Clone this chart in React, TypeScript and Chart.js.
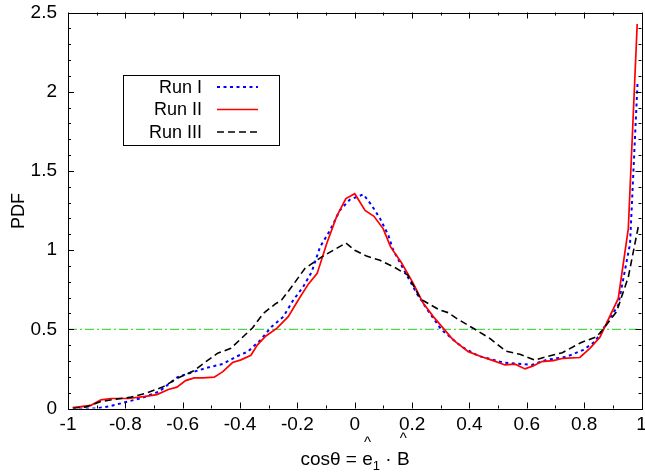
import React, { useEffect, useRef } from "react";
import { Chart, registerables } from "chart.js";

Chart.register(...registerables);

// ---- data ----
const X_MIN = -1;
const X_MAX = 1;
const Y_MIN = 0;
const Y_MAX = 2.5;
const X_MAJOR_STEP = 0.2;
const X_MINOR_STEP = 0.1;
const Y_MAJOR_STEP = 0.5;
const Y_MINOR_STEP = 0.1;

const runILabel = "Run I";
const runIX = [-0.983, -0.908, -0.856, -0.804, -0.745, -0.682, -0.618, -0.56, -0.507, -0.46, -0.414, -0.373, -0.33, -0.29, -0.249, -0.214, -0.18, -0.15, -0.121, -0.086, -0.052, -0.017, 0.03, 0.059, 0.088, 0.117, 0.134, 0.175, 0.216, 0.262, 0.303, 0.373, 0.431, 0.518, 0.617, 0.669, 0.739, 0.797, 0.838, 0.919, 0.96, 0.986];
const runIY = [0.0, 0.0, 0.013, 0.038, 0.065, 0.107, 0.198, 0.233, 0.261, 0.281, 0.327, 0.359, 0.43, 0.516, 0.58, 0.685, 0.768, 0.863, 1.02, 1.125, 1.251, 1.319, 1.352, 1.283, 1.2, 1.094, 1.0, 0.863, 0.727, 0.6, 0.496, 0.39, 0.332, 0.29, 0.275, 0.307, 0.327, 0.37, 0.422, 0.653, 1.04, 2.05];

const runIILabel = "Run II";
const runIIX = [-0.984, -0.92, -0.885, -0.85, -0.79, -0.73, -0.69, -0.65, -0.62, -0.59, -0.56, -0.53, -0.49, -0.46, -0.426, -0.397, -0.362, -0.34, -0.31, -0.272, -0.232, -0.197, -0.162, -0.131, -0.098, -0.063, -0.031, 0.0, 0.036, 0.067, 0.099, 0.125, 0.163, 0.204, 0.239, 0.274, 0.309, 0.343, 0.396, 0.442, 0.483, 0.524, 0.559, 0.594, 0.622, 0.652, 0.692, 0.727, 0.785, 0.82, 0.855, 0.919, 0.954, 0.985];
const runIIY = [0.005, 0.02, 0.055, 0.063, 0.063, 0.076, 0.088, 0.12, 0.135, 0.176, 0.193, 0.193, 0.198, 0.233, 0.29, 0.307, 0.336, 0.4, 0.458, 0.506, 0.58, 0.685, 0.785, 0.853, 1.04, 1.213, 1.325, 1.356, 1.251, 1.213, 1.136, 1.02, 0.92, 0.79, 0.664, 0.58, 0.506, 0.433, 0.359, 0.327, 0.302, 0.275, 0.28, 0.25, 0.269, 0.296, 0.302, 0.317, 0.322, 0.38, 0.45, 0.695, 1.136, 2.427];

const runIIILabel = "Run III";
const runIIIX = [-0.983, -0.937, -0.885, -0.833, -0.78, -0.728, -0.67, -0.618, -0.56, -0.519, -0.478, -0.432, -0.397, -0.356, -0.319, -0.278, -0.255, -0.22, -0.174, -0.115, -0.075, -0.031, 0.0, 0.041, 0.088, 0.14, 0.185, 0.23, 0.297, 0.326, 0.355, 0.419, 0.471, 0.527, 0.576, 0.628, 0.669, 0.724, 0.788, 0.843, 0.864, 0.913, 0.954, 0.989];
const runIIIY = [0.0, 0.01, 0.044, 0.059, 0.072, 0.097, 0.135, 0.191, 0.239, 0.296, 0.349, 0.38, 0.44, 0.51, 0.6, 0.659, 0.685, 0.768, 0.884, 0.957, 0.999, 1.045, 0.999, 0.962, 0.936, 0.89, 0.842, 0.69, 0.621, 0.605, 0.569, 0.5, 0.443, 0.362, 0.342, 0.305, 0.327, 0.352, 0.415, 0.453, 0.496, 0.611, 0.83, 1.15];

const refLineX = [-1, 1];
const refLineY = [0.5, 0.5];

const yTitle = "PDF";
const xTitleParts = { pre: "cosθ = ", e: "e", sub: "1", mid: " · ", b: "B", hat: "^" };

const FONT = "'Liberation Sans', Arial, Helvetica, sans-serif";

const zip = (xs: number[], ys: number[]) => xs.map((x, i) => ({ x, y: ys[i] }));

const framePlugin = {
  id: "gnuFrame",
  afterDatasetsDraw(chart: any) {
    const { ctx, chartArea: a, scales } = chart;
    const xs = scales.x;
    const ys = scales.y;
    ctx.save();
    ctx.strokeStyle = "#000";
    ctx.lineWidth = 1;
    ctx.beginPath();
    const nx = Math.round((X_MAX - X_MIN) / X_MINOR_STEP);
    for (let i = 0; i <= nx; i++) {
      const v = X_MIN + i * X_MINOR_STEP;
      const major = i % Math.round(X_MAJOR_STEP / X_MINOR_STEP) === 0;
      const len = major ? 6 : 3;
      const px = Math.round(xs.getPixelForValue(v)) + 0.5;
      ctx.moveTo(px, a.bottom);
      ctx.lineTo(px, a.bottom - len);
      ctx.moveTo(px, a.top);
      ctx.lineTo(px, a.top + len);
    }
    const ny = Math.round((Y_MAX - Y_MIN) / Y_MINOR_STEP);
    for (let i = 0; i <= ny; i++) {
      const v = Y_MIN + i * Y_MINOR_STEP;
      const major = i % Math.round(Y_MAJOR_STEP / Y_MINOR_STEP) === 0;
      const len = major ? 6 : 3;
      const py = Math.round(ys.getPixelForValue(v)) + 0.5;
      ctx.moveTo(a.left, py);
      ctx.lineTo(a.left + len, py);
      ctx.moveTo(a.right, py);
      ctx.lineTo(a.right - len, py);
    }
    ctx.stroke();
    ctx.strokeRect(Math.round(a.left) + 0.5, Math.round(a.top) + 0.5, Math.round(a.right - a.left), Math.round(a.bottom - a.top));
    ctx.restore();
  },
  afterDraw(chart: any) {
    const { ctx } = chart;
    ctx.save();
    // legend
    const bx = 123.5, by = 75.5, bw = 156, bh = 70;
    ctx.strokeStyle = "#000";
    ctx.lineWidth = 1;
    ctx.strokeRect(bx, by, bw, bh);
    const rows = [87, 109.5, 132];
    const ds = chart.data.datasets.slice(0, 3);
    ctx.font = `18px ${FONT}`;
    ctx.fillStyle = "#000";
    ctx.textAlign = "right";
    ctx.textBaseline = "middle";
    ds.forEach((d: any, i: number) => {
      ctx.fillStyle = "#000";
      ctx.fillText(d.label, 202, rows[i] + 1);
      ctx.save();
      ctx.strokeStyle = d.borderColor;
      ctx.lineWidth = d.borderWidth;
      ctx.setLineDash(d.borderDash || []);
      ctx.beginPath();
      ctx.moveTo(217, rows[i]);
      ctx.lineTo(258, rows[i]);
      ctx.stroke();
      ctx.restore();
    });
    // y title
    ctx.save();
    ctx.translate(19, 211);
    ctx.rotate(-Math.PI / 2);
    ctx.textAlign = "center";
    ctx.textBaseline = "middle";
    ctx.font = `18px ${FONT}`;
    ctx.fillStyle = "#000";
    ctx.fillText(yTitle, 0, 0);
    ctx.restore();
    // x title
    const big = `19px ${FONT}`;
    const small = `13px ${FONT}`;
    ctx.textAlign = "left";
    ctx.textBaseline = "alphabetic";
    ctx.font = big;
    const wPre = ctx.measureText(xTitleParts.pre).width;
    const wE = ctx.measureText(xTitleParts.e).width;
    const wMid = ctx.measureText(xTitleParts.mid).width;
    const wB = ctx.measureText(xTitleParts.b).width;
    ctx.font = small;
    const wSub = ctx.measureText(xTitleParts.sub).width;
    const total = wPre + wE + wSub + wMid + wB;
    let x = 355 - total / 2;
    const base = 465;
    ctx.font = big;
    ctx.fillText(xTitleParts.pre, x, base);
    x += wPre;
    const eC = x + wE / 2;
    ctx.fillText(xTitleParts.e, x, base);
    x += wE;
    ctx.font = small;
    ctx.fillText(xTitleParts.sub, x, base + 5);
    x += wSub;
    ctx.font = big;
    ctx.fillText(xTitleParts.mid, x, base);
    x += wMid;
    const bC = x + wB / 2;
    ctx.fillText(xTitleParts.b, x, base);
    ctx.font = `15px ${FONT}`;
    ctx.textAlign = "center";
    ctx.fillText(xTitleParts.hat, eC, base - 18);
    ctx.fillText(xTitleParts.hat, bC, base - 22);
    ctx.restore();
  },
};

export default function App() {
  const ref = useRef<HTMLCanvasElement | null>(null);
  useEffect(() => {
    if (!ref.current) return;
    const chart = new Chart(ref.current, {
      type: "line",
      data: {
        datasets: [
          {
            label: runILabel,
            data: zip(runIX, runIY),
            borderColor: "#0000ff",
            borderWidth: 2,
            borderDash: [3, 3.5],
            pointRadius: 0,
            tension: 0,
            order: 3,
          },
          {
            label: runIILabel,
            data: zip(runIIX, runIIY),
            borderColor: "#ff0000",
            borderWidth: 1.7,
            borderDash: [],
            pointRadius: 0,
            tension: 0,
            order: 2,
          },
          {
            label: runIIILabel,
            data: zip(runIIIX, runIIIY),
            borderColor: "#000000",
            borderWidth: 1.6,
            borderDash: [7, 4],
            pointRadius: 0,
            tension: 0,
            order: 1,
          },
          {
            label: "ref",
            data: zip(refLineX, refLineY),
            borderColor: "#22cc22",
            borderWidth: 1,
            borderDash: [9, 3, 2, 3],
            pointRadius: 0,
            tension: 0,
            order: 4,
          },
        ],
      },
      options: {
        animation: false,
        responsive: false,
        events: [],
        layout: { padding: { left: 0, top: 12.5, right: 3.5, bottom: 0 }, autoPadding: false },
        plugins: { legend: { display: false }, tooltip: { enabled: false }, title: { display: false } },
        scales: {
          x: {
            type: "linear",
            min: X_MIN,
            max: X_MAX,
            grid: { display: false, drawTicks: false },
            border: { display: false },
            ticks: {
              stepSize: X_MAJOR_STEP,
              autoSkip: false,
              maxRotation: 0,
              padding: 5,
              color: "#000",
              font: { family: FONT, size: 19 },
              callback: (v: any) => String(Number(Number(v).toFixed(1))),
            },
            afterFit: (s: any) => {
              s.height = 66.5;
              s.paddingLeft = 0;
              s.paddingRight = 0;
              s.paddingTop = 0;
              s.paddingBottom = 0;
            },
          },
          y: {
            type: "linear",
            min: Y_MIN,
            max: Y_MAX,
            grid: { display: false, drawTicks: false },
            border: { display: false },
            ticks: {
              stepSize: Y_MAJOR_STEP,
              padding: 11,
              color: "#000",
              font: { family: FONT, size: 19 },
              callback: (v: any) => String(Number(Number(v).toFixed(1))),
            },
            afterFit: (s: any) => {
              s.width = 68;
              s.paddingLeft = 0;
              s.paddingRight = 0;
              s.paddingTop = 0;
              s.paddingBottom = 0;
            },
          },
        },
      },
      plugins: [framePlugin],
    } as any);
    return () => chart.destroy();
  }, []);
  return (
    <div style={{ position: "fixed", left: 0, top: 0, width: 645, height: 475, background: "#fff" }}>
      <canvas ref={ref} width={645} height={475} style={{ display: "block", width: 645, height: 475 }} />
    </div>
  );
}
